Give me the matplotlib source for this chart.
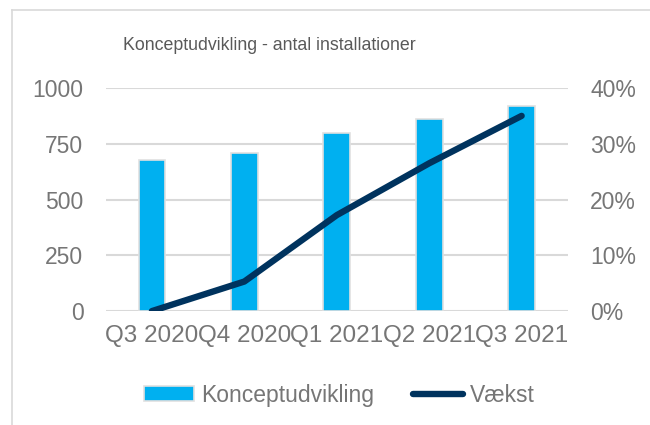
import matplotlib.pyplot as plt
from matplotlib.lines import Line2D
from matplotlib.ticker import FuncFormatter

plt.rcParams['font.family'] = ['Liberation Sans', 'DejaVu Sans']

# data
quarters = ["Q3 2020", "Q4 2020", "Q1 2021", "Q2 2021", "Q3 2021"]
installations = [677, 710, 800, 862, 920]
growth = [0.0, 0.053, 0.172, 0.265, 0.35]

grey = "#767676"
grid = "#d9d9d9"
bar_col = "#00b0f0"
line_col = "#00335e"
fs = 16.5

fig = plt.figure(figsize=(6.5, 4.25), dpi=100)
ax = fig.add_axes([0.1626, 0.268, 0.711, 0.525])
ax2 = ax.twinx()

x = range(len(quarters))
ax.bar(x, installations, width=0.29, color=bar_col, edgecolor="#e0e0e0",
       linewidth=1.2, label="Konceptudvikling", zorder=2)
ax2.plot(x, growth, color=line_col, linewidth=4.6, solid_capstyle="round",
         label="Vækst", zorder=3)

ax.set_xlim(-0.5, len(quarters) - 0.5)
ax.set_ylim(0, 1000)
ax.set_yticks([0, 250, 500, 750, 1000])
ax2.set_ylim(0, 0.4)
ax2.set_yticks([0, 0.1, 0.2, 0.3, 0.4])
ax2.yaxis.set_major_formatter(FuncFormatter(lambda v, p: f"{v*100:.0f}%"))

ax.set_xticks(list(x))
ax.set_xticklabels(quarters, fontsize=17.5)
ax.yaxis.grid(True, color=grid, linewidth=1.5, zorder=0)
ax.set_axisbelow(True)

for a in (ax, ax2):
    for s in a.spines.values():
        s.set_visible(False)
    a.tick_params(length=0, labelsize=fs, labelcolor=grey)
ax.tick_params(axis="y", pad=16)
ax2.tick_params(axis="y", pad=16)
ax.tick_params(axis="x", pad=10, labelsize=17.5)

fig.text(0.414, 0.893, "Konceptudvikling - antal installationer",
         ha="center", va="center", fontsize=12.8, color="#595959")

h1, l1 = ax.get_legend_handles_labels()
h2, l2 = ax2.get_legend_handles_labels()
fig.legend(h1 + h2, l1 + l2, loc="center", bbox_to_anchor=(0.522, 0.07),
           ncol=2, frameon=False, fontsize=fs, labelcolor=grey,
           handlelength=2.2, handleheight=0.6, handletextpad=0.3,
           columnspacing=1.7)

# light frame like the chart area border
fig.add_artist(Line2D([12/650, 12/650], [0, 1 - 10/425], transform=fig.transFigure,
                      color="#d9d9d9", linewidth=1.2))
fig.add_artist(Line2D([12/650, 1], [1 - 10/425, 1 - 10/425], transform=fig.transFigure,
                      color="#d9d9d9", linewidth=1.2))

fig.savefig("out.png", dpi=100, facecolor="white")
